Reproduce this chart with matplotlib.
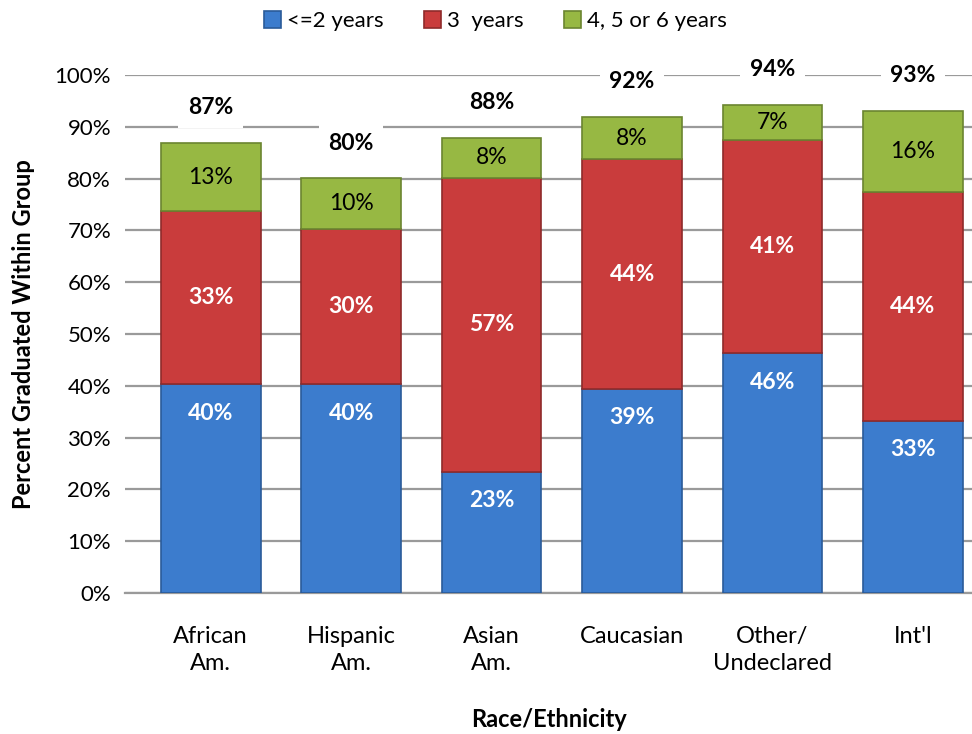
import matplotlib
matplotlib.use("Agg")
import matplotlib.pyplot as plt
from matplotlib.transforms import offset_copy

categories = ["African\nAm.", "Hispanic\nAm.", "Asian\nAm.", "Caucasian", "Other/\nUndeclared", "Int'l"]
series_names = ["<=2 years", "3  years", "4, 5 or 6 years"]
le2_years = [40.3, 40.3, 23.4, 39.4, 46.3, 33.3]
three_years = [33.4, 30.0, 56.7, 44.3, 41.2, 44.2]
four_to_six = [13.2, 9.8, 7.8, 8.2, 6.8, 15.6]
yticks = [0, 10, 20, 30, 40, 50, 60, 70, 80, 90, 100]

plt.rcParams['font.family'] = ['Lato', 'DejaVu Sans']

fig = plt.figure(figsize=(9.72, 7.34), dpi=100)
ax = fig.add_axes([125/972, 141/734, 847/972, 518/734])

x = list(range(len(categories)))
w = 0.71
colors = ["#3c7ccd", "#c93c3c", "#97b843"]
edges = ["#2a5b99", "#8f2a2a", "#6b8530"]

b1 = ax.bar(x, le2_years, w, color=colors[0], edgecolor=edges[0], linewidth=1.2, label=series_names[0], zorder=3)
b2 = ax.bar(x, three_years, w, bottom=le2_years, color=colors[1], edgecolor=edges[1], linewidth=1.2, label=series_names[1], zorder=3)
bot3 = [a + b for a, b in zip(le2_years, three_years)]
b3 = ax.bar(x, four_to_six, w, bottom=bot3, color=colors[2], edgecolor=edges[2], linewidth=1.2, label=series_names[2], zorder=3)

fs = 16.5
for i in x:
    tr = offset_copy(ax.transData, fig=fig, x=0, y=-29, units='dots')
    ax.text(i, le2_years[i], f"{round(le2_years[i])}%", transform=tr, ha='center', va='center',
            color='white', fontweight='bold', fontsize=fs, zorder=5)
    ax.text(i, le2_years[i] + three_years[i] / 2, f"{round(three_years[i])}%", ha='center', va='center',
            color='white', fontweight='bold', fontsize=fs, zorder=5)
    ax.text(i, bot3[i] + four_to_six[i] / 2, f"{round(four_to_six[i])}%", ha='center', va='center',
            color='black', fontsize=fs, zorder=5)
    total = bot3[i] + four_to_six[i]
    tr2 = offset_copy(ax.transData, fig=fig, x=0, y=35, units='dots')
    ax.text(i, total, f"{round(total)}%", transform=tr2, ha='center', va='center',
            color='black', fontweight='bold', fontsize=fs, zorder=4, clip_on=False,
            bbox=dict(facecolor='white', edgecolor='none', pad=7))

ax.set_ylim(0, 100)
ax.set_xlim(-0.61, 5.42)
ax.set_yticks(yticks)
ax.set_yticklabels([f"{t}%" for t in yticks], fontsize=16)
ax.set_xticks(x)
ax.set_xticklabels(categories, fontsize=17, linespacing=1.35)
ax.tick_params(axis='y', length=0, pad=10)
ax.tick_params(axis='x', length=0, pad=24)
ax.yaxis.grid(True, color='#9a9a9a', linewidth=1.6, zorder=0)
ax.set_axisbelow(True)
for s in ['top', 'right', 'left']:
    ax.spines[s].set_visible(False)
ax.spines['bottom'].set_color('#9a9a9a')
ax.spines['bottom'].set_linewidth(1.6)

ax.set_ylabel("Percent Graduated Within Group", fontsize=17, fontweight='bold', labelpad=14)
ax.set_xlabel("Race/Ethnicity", fontsize=17, fontweight='bold', labelpad=24)

fig.legend(handles=[b1, b2, b3], labels=series_names, loc='upper center', bbox_to_anchor=(0.51, 1.012),
           ncol=3, frameon=False, fontsize=16, handlelength=0.75, handleheight=0.75,
           handletextpad=0.3, columnspacing=1.8)

fig.savefig("out.png", dpi=100)
